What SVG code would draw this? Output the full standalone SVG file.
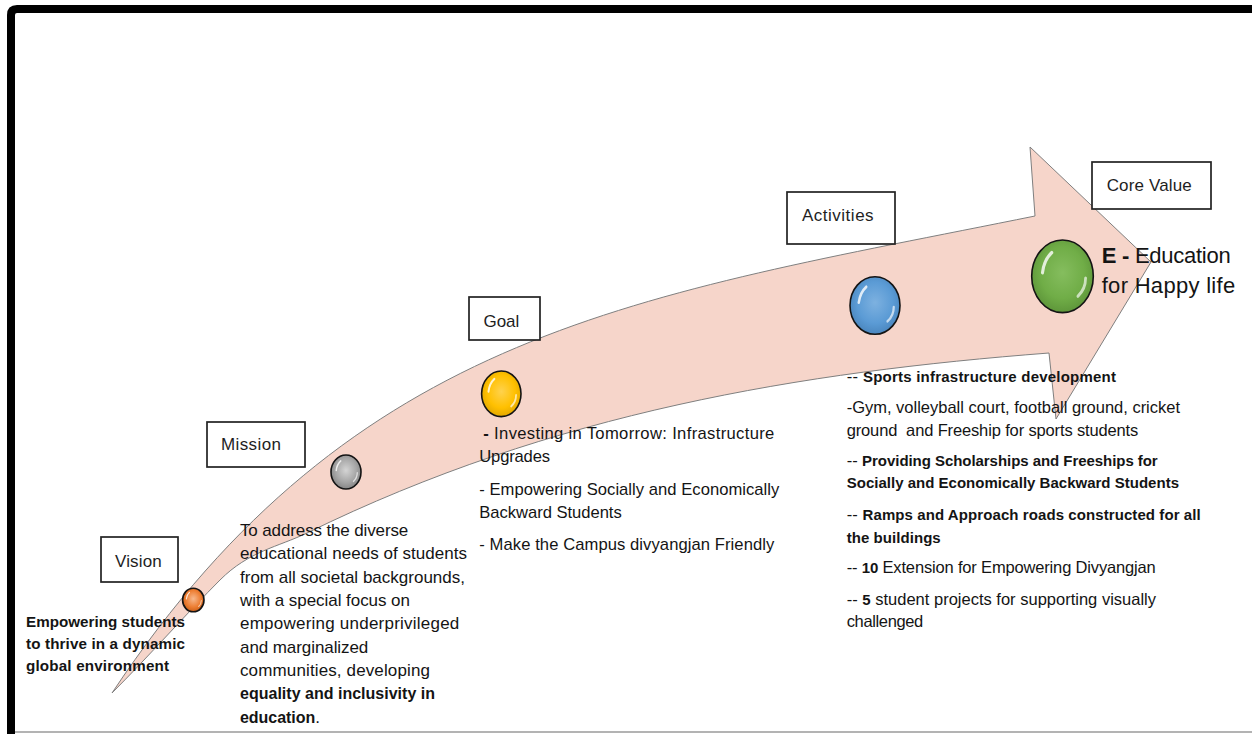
<svg xmlns="http://www.w3.org/2000/svg" width="1252" height="734" viewBox="0 0 1252 734">
<style>
.box{fill:#fff;stroke:#222;stroke-width:1.7}
.lbl{font-family:"Liberation Sans",Arial,sans-serif;font-size:17px;fill:#1e1e1e}
.t{font-family:"Liberation Sans",Arial,sans-serif;fill:#141414}
.b{font-weight:bold}
.ball{stroke:#141414;stroke-width:1.6}
.hl{fill:none;stroke:#fff;stroke-linecap:round}
</style>
<defs>
<radialGradient id="gOr" cx="50%" cy="45%" r="55%"><stop offset="0" stop-color="#F7B88C"/><stop offset="0.65" stop-color="#ED7D31"/><stop offset="1" stop-color="#C9601B"/></radialGradient>
<radialGradient id="gGr" cx="50%" cy="45%" r="55%"><stop offset="0" stop-color="#D4D4D4"/><stop offset="0.65" stop-color="#A5A5A5"/><stop offset="1" stop-color="#858585"/></radialGradient>
<radialGradient id="gYe" cx="50%" cy="45%" r="55%"><stop offset="0" stop-color="#FFD24D"/><stop offset="0.65" stop-color="#FFC000"/><stop offset="1" stop-color="#E3A800"/></radialGradient>
<radialGradient id="gBl" cx="50%" cy="45%" r="55%"><stop offset="0" stop-color="#7DB1E0"/><stop offset="0.65" stop-color="#5B9BD5"/><stop offset="1" stop-color="#4A86BE"/></radialGradient>
<radialGradient id="gGn" cx="50%" cy="45%" r="55%"><stop offset="0" stop-color="#85BD5E"/><stop offset="0.65" stop-color="#70AD47"/><stop offset="1" stop-color="#5E963A"/></radialGradient>
<g id="shine">
<path class="hl" d="M -13,-2 Q -12,-9 -7,-13" stroke-width="2" opacity="0.8"/>
<path class="hl" d="M 15,1 Q 15,7 10,11" stroke-width="1.8" opacity="0.65"/>
</g>
</defs>
<rect width="1252" height="734" fill="#fff"/>
<path d="M 11,734 V 15 Q 11,9 17,9 H 1252" fill="none" stroke="#000" stroke-width="8"/>
<line x1="15" y1="732" x2="1252" y2="732" stroke="#9a9a9a" stroke-width="1.5"/>

<g id="connectors">
<path d="M 112,693 C 355,328 640,296 1035,216 L 1030,147 L 1151,262 L 1056,419 L 1049,353 C 802,372 554,412 307,533 C 278,547 249,551 220,580 C 188,612 148,657 112,693 Z" fill="#F6D5CA" stroke="#7F7F7F" stroke-width="1"/>
</g>

<g id="node-vision">
<rect class="box" x="101" y="537" width="77" height="45"/>
<text class="lbl" x="115" y="566.5" textLength="46.7">Vision</text>
<g transform="translate(193.3 600) scale(0.535 0.59)"><circle r="20" class="ball" fill="url(#gOr)" vector-effect="non-scaling-stroke"/><use href="#shine"/></g>
<text class="t b" font-size="15.2"><tspan x="26" y="627.3" textLength="159">Empowering students</tspan><tspan x="26" y="649" textLength="159">to thrive in a dynamic</tspan><tspan x="26" y="670.7" textLength="143">global environment</tspan></text>
</g>

<g id="node-mission">
<rect class="box" x="207" y="422" width="98" height="45"/>
<text class="lbl" x="221" y="450" textLength="60">Mission</text>
<g transform="translate(346 472) scale(0.75 0.85)"><circle r="20" class="ball" fill="url(#gGr)" vector-effect="non-scaling-stroke"/><use href="#shine"/></g>
<g class="t" font-size="17">
<text x="240" y="536" textLength="168.3">To address the diverse</text>
<text x="240" y="559.3" textLength="227">educational needs of students</text>
<text x="240" y="582.7" textLength="225">from all societal backgrounds,</text>
<text x="240" y="606" textLength="170">with a special focus on</text>
<text x="240" y="629.3" textLength="219.3">empowering underprivileged</text>
<text x="240" y="652.7" textLength="128.3">and marginalized</text>
<text x="240" y="676" textLength="190">communities, developing</text>
<text x="240" y="699.3" textLength="195" class="b" font-size="16">equality and inclusivity in</text>
<text x="240" y="722.6" textLength="80"><tspan class="b" font-size="16">education</tspan>.</text>
</g>
</g>

<g id="node-goal">
<rect class="box" x="469" y="297" width="71" height="43"/>
<text class="lbl" x="483.5" y="326.5" textLength="35.7">Goal</text>
<g transform="translate(501.3 393.8) scale(0.985 1.14)"><circle r="20" class="ball" fill="url(#gYe)" vector-effect="non-scaling-stroke"/><use href="#shine"/></g>
<g class="t" font-size="16.6">
<text x="483.3" y="439" textLength="291"><tspan class="b">-</tspan> Investing in Tomorrow: Infrastructure</text>
<text x="479.3" y="461.5" textLength="70.7">Upgrades</text>
<text x="479.3" y="495" textLength="300">- Empowering Socially and Economically</text>
<text x="479.3" y="517.5" textLength="142.4">Backward Students</text>
<text x="479.3" y="550" textLength="295">- Make the Campus divyangjan Friendly</text>
</g>
</g>

<g id="node-activities">
<rect class="box" x="787" y="192" width="108" height="52"/>
<text class="lbl" x="802" y="220.7" textLength="71.6">Activities</text>
<g transform="translate(875 305.5) scale(1.25 1.44)"><circle r="20" class="ball" fill="url(#gBl)" vector-effect="non-scaling-stroke"/><use href="#shine"/></g>
<g class="t" font-size="16.5">
<text x="846.7" y="381.7" textLength="269.3">-- <tspan class="b" font-size="15">Sports infrastructure development</tspan></text>
<text x="846.7" y="413.3" textLength="333.3">-Gym, volleyball court, football ground, cricket</text>
<text x="846.7" y="436" textLength="291.6" style="white-space:pre">ground  and Freeship for sports students</text>
<text x="846.7" y="466" textLength="311">-- <tspan class="b" font-size="15">Providing Scholarships and Freeships for</tspan></text>
<text x="846.7" y="488.3" textLength="332.3" class="b" font-size="15">Socially and Economically Backward Students</text>
<text x="846.7" y="520" textLength="354">-- <tspan class="b" font-size="15">Ramps and Approach roads constructed for all</tspan></text>
<text x="846.7" y="542.7" textLength="94" class="b" font-size="15">the buildings</text>
<text x="846.7" y="573.3" textLength="309">-- <tspan class="b" font-size="15">10</tspan> Extension for Empowering Divyangjan</text>
<text x="846.7" y="605" textLength="309.3">-- <tspan class="b" font-size="15">5</tspan> student projects for supporting visually</text>
<text x="846.7" y="626.7" textLength="76.6">challenged</text>
</g>
</g>

<g id="node-core-value">
<rect class="box" x="1092" y="162" width="119" height="47"/>
<text class="lbl" x="1106.7" y="191" textLength="85">Core Value</text>
<g transform="translate(1062.5 276.3) scale(1.54 1.815)"><circle r="20" class="ball" fill="url(#gGn)" vector-effect="non-scaling-stroke"/><use href="#shine"/></g>
<g class="t" font-size="22">
<text x="1101.7" y="263.3" textLength="129"><tspan class="b">E -</tspan> Education</text>
<text x="1101.7" y="293.3" textLength="133.5">for Happy life</text>
</g>
</g>
</svg>
